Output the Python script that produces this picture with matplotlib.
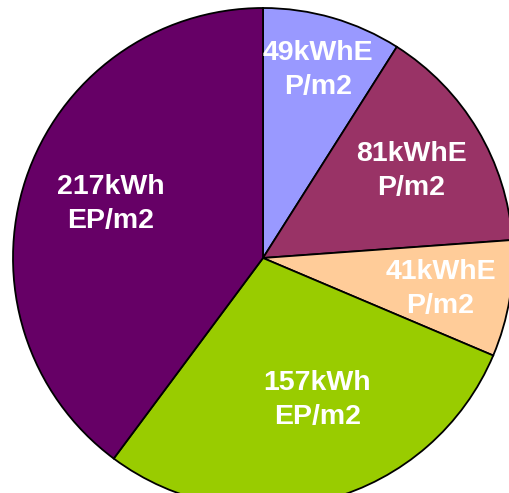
import numpy as np
import matplotlib
matplotlib.use("Agg")
import matplotlib.pyplot as plt

values = [49, 81, 41, 157, 217]
labels = ["49kWhE\nP/m2", "81kWhE\nP/m2", "41kWhE\nP/m2", "157kWh\nEP/m2", "217kWh\nEP/m2"]
colors = ["#9999FF", "#993366", "#FFCC99", "#99CC00", "#660066"]
label_dist = [0.79, 0.69, 0.72, 0.60, 0.65]
label_shift = [0.0, 0.0, 0.0, 6.0, -2.0]  # degrees

W, H = 510, 493
fig = plt.figure(figsize=(W / 100, H / 100), dpi=100)
ax = fig.add_axes([0, 0, 1, 1])

cx, cy, R = 263, H - 258, 250
wedges, _ = ax.pie(values, colors=colors, startangle=90, counterclock=False,
                   center=(cx, cy), radius=R, frame=True,
                   wedgeprops=dict(edgecolor="black", linewidth=1.3))
ax.set_xlim(0, W)
ax.set_ylim(0, H)
ax.axis("off")

for w, lab, d, s in zip(wedges, labels, label_dist, label_shift):
    ang = np.deg2rad((w.theta1 + w.theta2) / 2 + s)
    x = cx + d * R * np.cos(ang)
    y = cy + d * R * np.sin(ang) - 2
    ax.text(x, y, lab, ha="center", va="center", color="white",
            fontsize=20.5, fontweight="bold", family="Liberation Sans",
            linespacing=1.4)

fig.savefig("out.png", dpi=100)
